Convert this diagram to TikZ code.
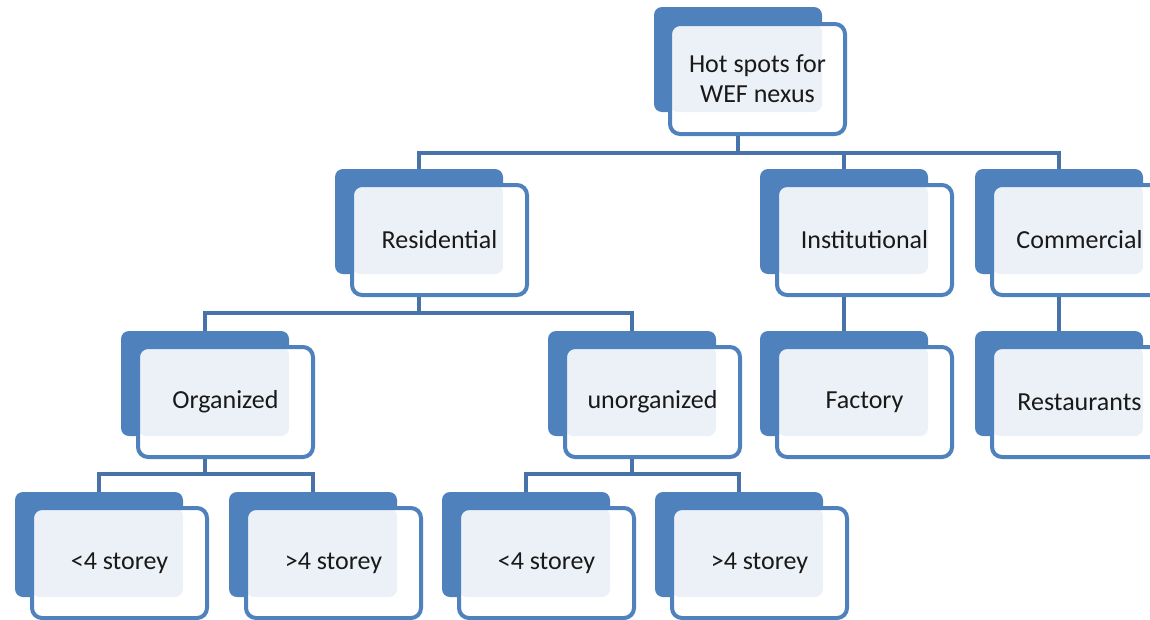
\documentclass[tikz,border=0pt]{standalone}
\usepackage{fontspec}
\setmainfont{Carlito}
\usepackage{tikz}
\usetikzlibrary{positioning}
\definecolor{wefblue}{HTML}{4F81BD}
\definecolor{weflink}{HTML}{4872AA}
\definecolor{wefpale}{HTML}{ECF1F8}
\tikzset{
    back/.style={
           rectangle,
           rounded corners=8pt,
           fill=wefblue,
           minimum width=168pt, minimum height=105pt,
           inner sep=0pt, outer sep=0pt,
           anchor=north west,
           },
    front/.style={
           rectangle,
           rounded corners=10pt,
           draw=wefblue, line width=4pt,
           fill=white,
           minimum width=175pt, minimum height=110pt,
           inner sep=0pt,
           anchor=north west,
           text=black!90, align=center,
           font=\fontsize{26}{30}\selectfont,
           path picture={\fill[wefpale,rounded corners=8pt]
               (path picture bounding box.north west) rectangle (#1.south east);},
           },
    link/.style={draw=weflink, line width=4.5pt},
}

\begin{document}
\begin{tikzpicture}[x=1pt,y=-1pt]
    \useasboundingbox (0,0) rectangle (1150,619);
    \clip (0,0) rectangle (1150,619);

    % top
    \node[back] (hot) at (654,7) {};
    \node[front=hot] (hot-f) at ([shift={(14,15)}]hot.north west) {Hot spots for\\WEF nexus};

    % first level
    \node[back] (res) at (335,169) {};
    \node[front=res] (res-f) at ([shift={(15,14)}]res.north west) {Residential};
    \node[back] (inst) at (760,169) {};
    \node[front=inst] (inst-f) at ([shift={(15,14)}]inst.north west) {Institutional};
    \node[back] (com) at (975,169) {};
    \node[front=com] (com-f) at ([shift={(15,14)}]com.north west) {Commercial};

    % second level
    \node[back] (org) at (121,331) {};
    \node[front=org] (org-f) at ([shift={(15,14)}]org.north west) {Organized};
    \node[back] (unorg) at (548,331) {};
    \node[front=unorg] (unorg-f) at ([shift={(15,14)}]unorg.north west) {unorganized};
    \node[back] (fac) at (760,331) {};
    \node[front=fac] (fac-f) at ([shift={(15,14)}]fac.north west) {Factory};
    \node[back] (rest) at (975,331) {};
    \node[front=rest] (rest-f) at ([shift={(15,14)}]rest.north west) {Restaurants};

    % third level
    \node[back] (org-lt) at (15,492) {};
    \node[front=org-lt] (org-lt-f) at ([shift={(15,14)}]org-lt.north west) {<4 storey};
    \node[back] (org-gt) at (229,492) {};
    \node[front=org-gt] (org-gt-f) at ([shift={(15,14)}]org-gt.north west) {>4 storey};
    \node[back] (unorg-lt) at (442,492) {};
    \node[front=unorg-lt] (unorg-lt-f) at ([shift={(15,14)}]unorg-lt.north west) {<4 storey};
    \node[back] (unorg-gt) at (655,492) {};
    \node[front=unorg-gt] (unorg-gt-f) at ([shift={(15,14)}]unorg-gt.north west) {>4 storey};

    % connectors
    \coordinate (bus0) at (738,153);
    \draw[link] (hot-f.south -| hot.south) -- (bus0);
    \draw[link] (res.north) |- (bus0) -| (com.north);
    \draw[link] (inst.north) -- (inst.north |- bus0);

    \coordinate (bus1) at (419,313);
    \draw[link] (res-f.south -| res.south) -- (bus1);
    \draw[link] (org.north) |- (bus1) -| (unorg.north);
    \draw[link] (inst-f.south -| inst.south) -- (fac.north);
    \draw[link] (com-f.south -| com.south) -- (rest.north);

    \coordinate (bus2) at (205,474);
    \draw[link] (org-f.south -| org.south) -- (bus2);
    \draw[link] (org-lt.north) |- (bus2) -| (org-gt.north);
    \coordinate (bus3) at (632,474);
    \draw[link] (unorg-f.south -| unorg.south) -- (bus3);
    \draw[link] (unorg-lt.north) |- (bus3) -| (unorg-gt.north);

\end{tikzpicture}
\end{document}
